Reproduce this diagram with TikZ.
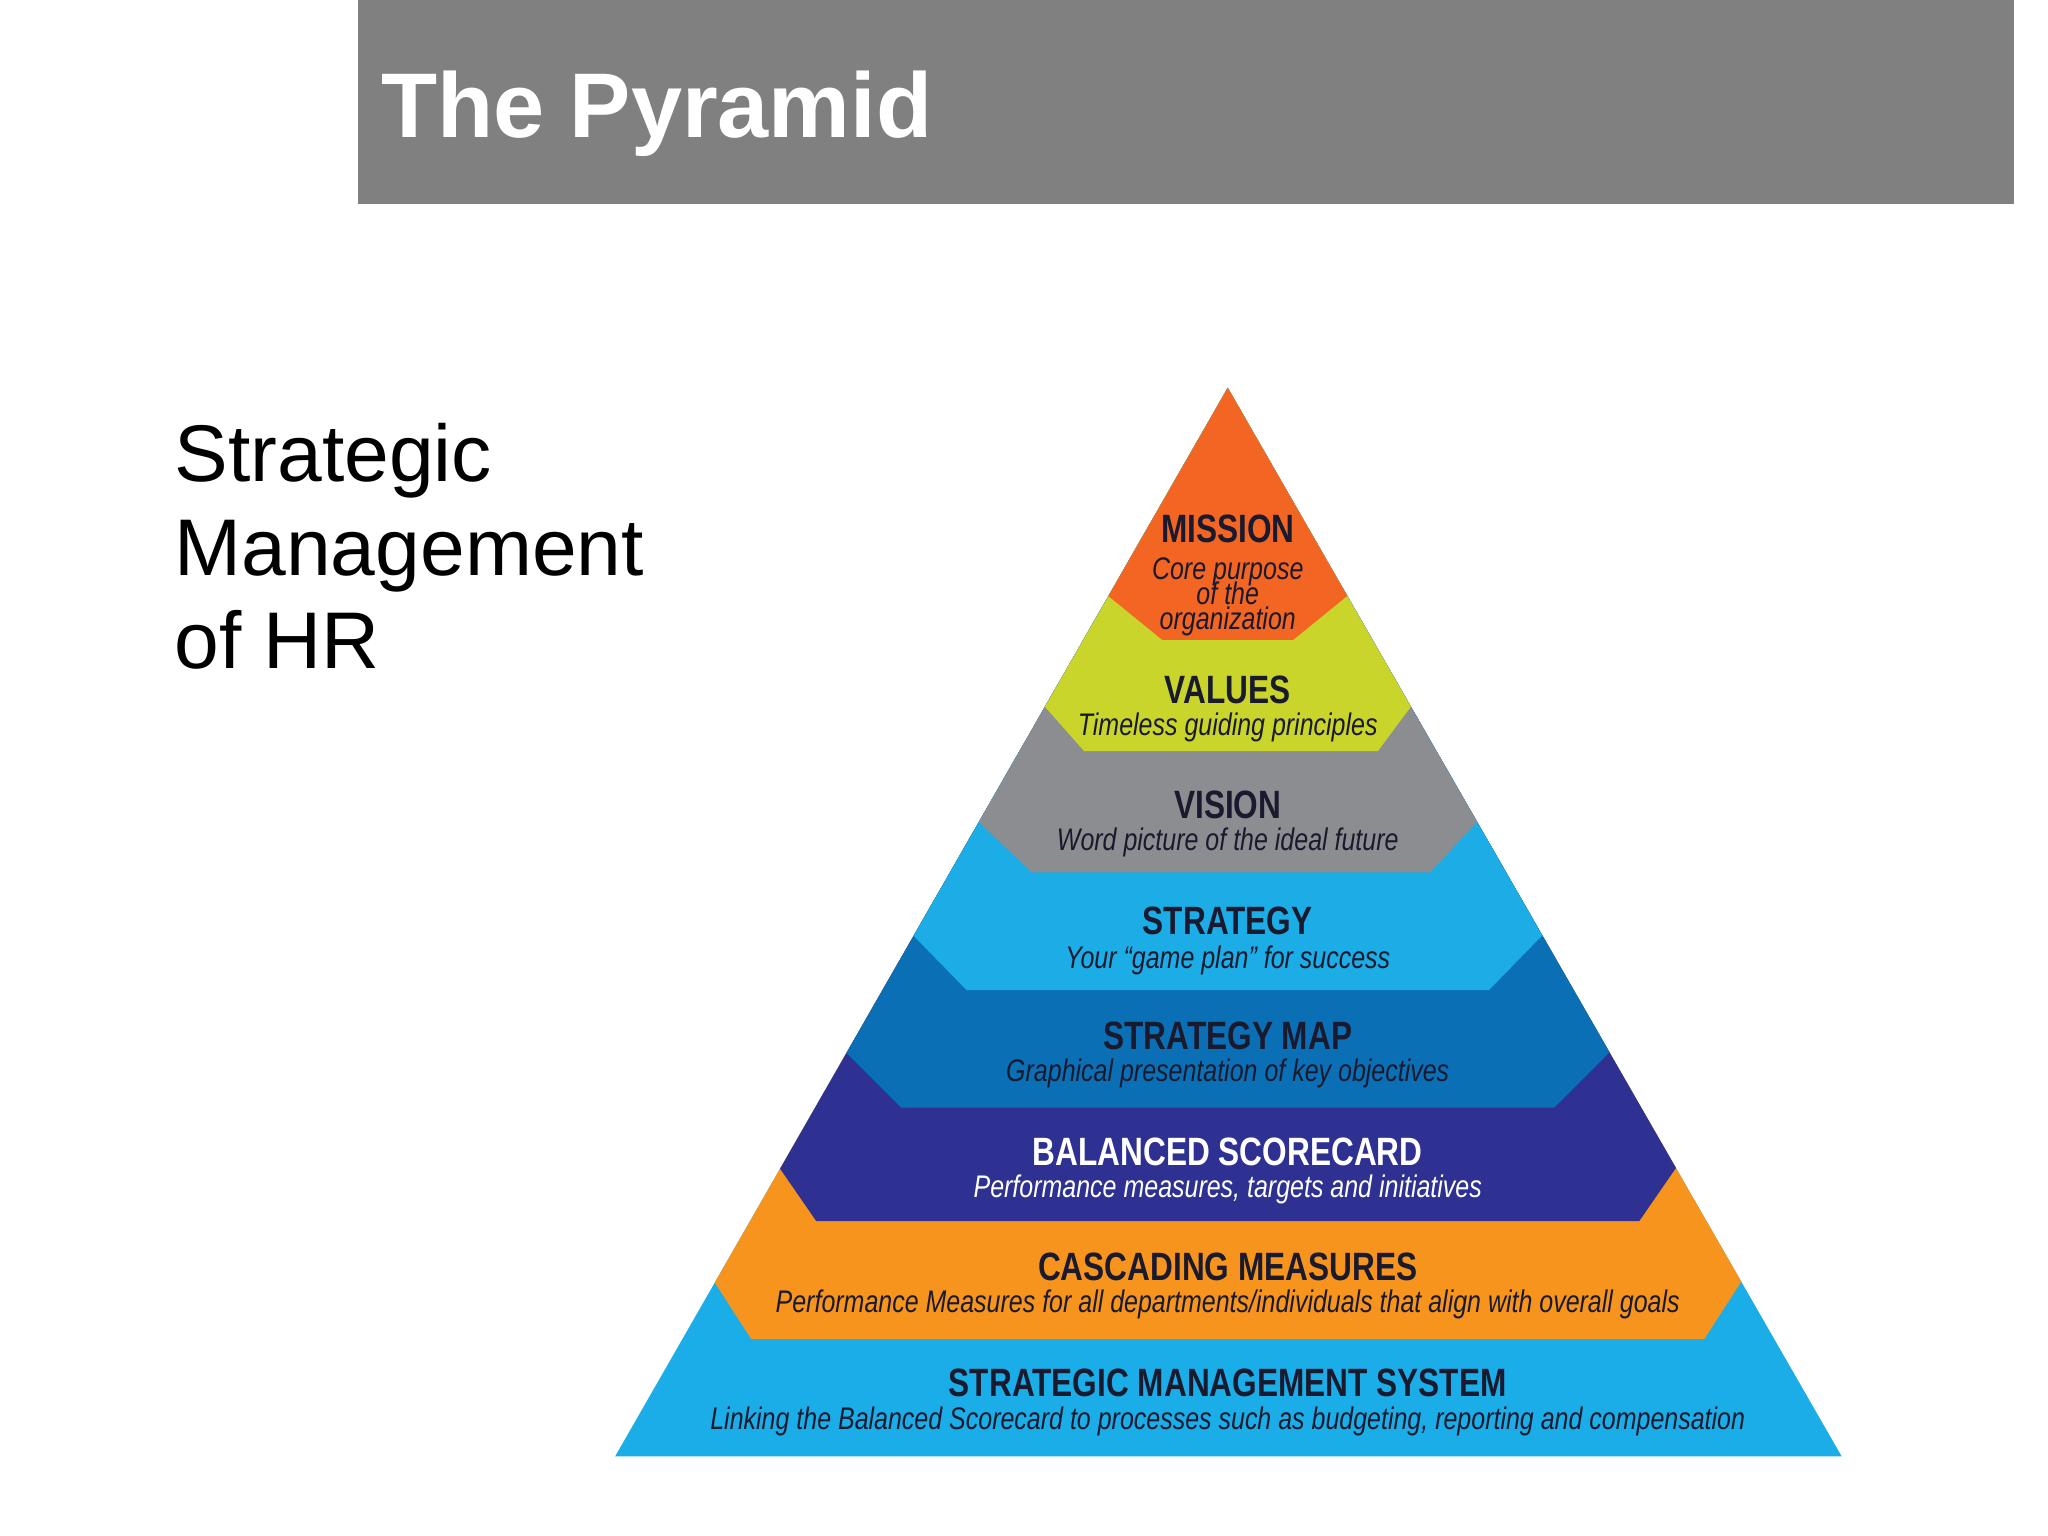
\documentclass[tikz,border=0pt]{standalone}
\usepackage{fontspec}
\setmainfont{Liberation Sans}
\usepackage{graphicx}
\definecolor{cMis}{HTML}{F26522}
\definecolor{cVal}{HTML}{C9D52B}
\definecolor{cVis}{HTML}{8C8D90}
\definecolor{cStr}{HTML}{1CACE6}
\definecolor{cMap}{HTML}{0B6FB6}
\definecolor{cBsc}{HTML}{2E3192}
\definecolor{cCas}{HTML}{F7941D}
\definecolor{cSms}{HTML}{1BADE8}
\definecolor{txt}{HTML}{1A1A2E}
\tikzset{
 ttl/.style={font=\fontsize{8.6}{9}\selectfont\bfseries, text=txt, inner sep=0pt},
 sub/.style={font=\fontsize{6.8}{6.9}\selectfont\itshape, text=txt, inner sep=0pt, align=center},
}
\newcommand{\sq}[1]{\scalebox{0.8}[1]{#1}}
\begin{document}
\begin{tikzpicture}[x=0.01cm,y=-0.01cm]
\useasboundingbox (0,0) rectangle (1568,1176);
\fill[white] (0,0) rectangle (1568,1176);
\fill[black!50] (274,0) rectangle (1542,156);
\node[anchor=base west, inner sep=0pt, text=white, font=\fontsize{20}{24}\selectfont\bfseries] (title) at (291,105) {The Pyramid};
\node[anchor=base west, inner sep=0pt, align=left, font=\fontsize{17.5}{20.4}\selectfont] (left) at (133,512) {Strategic\\Management\\of HR};
\begin{scope}
\clip (940,297) -- (1410,1115) -- (471,1115) -- cycle;
\fill[cSms] (0,0) rectangle (1568,1176);
\foreach \c/\s/\b/\l/\r/\el/\er in {cCas/980/1025/575/1305/548/1332, cBsc/893/935/625/1255/598/1282, cMap/805/848/690/1190/649/1231, cStr/715/758/740/1140/700/1180, cVis/628/668/790/1095/750/1130, cVal/540/575/830/1055/801/1079, cMis/455/490/890/990/849/1031}{
  \fill[\c] (0,\s) -- (\el-2,\s) -- (\l,\b) -- (\r,\b) -- (\er+2,\s) -- (1568,\s) -- (1568,0) -- (0,0) -- cycle;
}
\end{scope}
\node[ttl] (t1) at (940,405) {\sq{MISSION}};
\node[sub] (s1) at (940,457) {\sq{Core purpose}\\[-1.5pt]\sq{of the}\\[-1.5pt]\sq{organization}};
\node[ttl] (t2) at (940,528) {\sq{VALUES}};
\node[sub] (s2) at (940,557) {\sq{Timeless guiding principles}};
\node[ttl] (t3) at (940,616) {\sq{VISION}};
\node[sub] (s3) at (940,645) {\sq{Word picture of the ideal future}};
\node[ttl] (t4) at (940,705) {\sq{STRATEGY}};
\node[sub] (s4) at (940,735) {\sq{Your ``game plan'' for success}};
\node[ttl] (t5) at (940,793) {\sq{STRATEGY MAP}};
\node[sub] (s5) at (940,822) {\sq{Graphical presentation of key objectives}};
\node[ttl,text=white] (t6) at (940,882) {\sq{BALANCED SCORECARD}};
\node[sub,text=white] (s6) at (940,911) {\sq{Performance measures, targets and initiatives}};
\node[ttl] (t7) at (940,970) {\sq{CASCADING MEASURES}};
\node[sub] (s7) at (940,999) {\sq{Performance Measures for all departments/individuals that align with overall goals}};
\node[ttl] (t8) at (940,1059) {\sq{STRATEGIC MANAGEMENT SYSTEM}};
\node[sub] (s8) at (940,1088) {\sq{Linking the Balanced Scorecard to processes such as budgeting, reporting and compensation}};
\end{tikzpicture}
\end{document}
